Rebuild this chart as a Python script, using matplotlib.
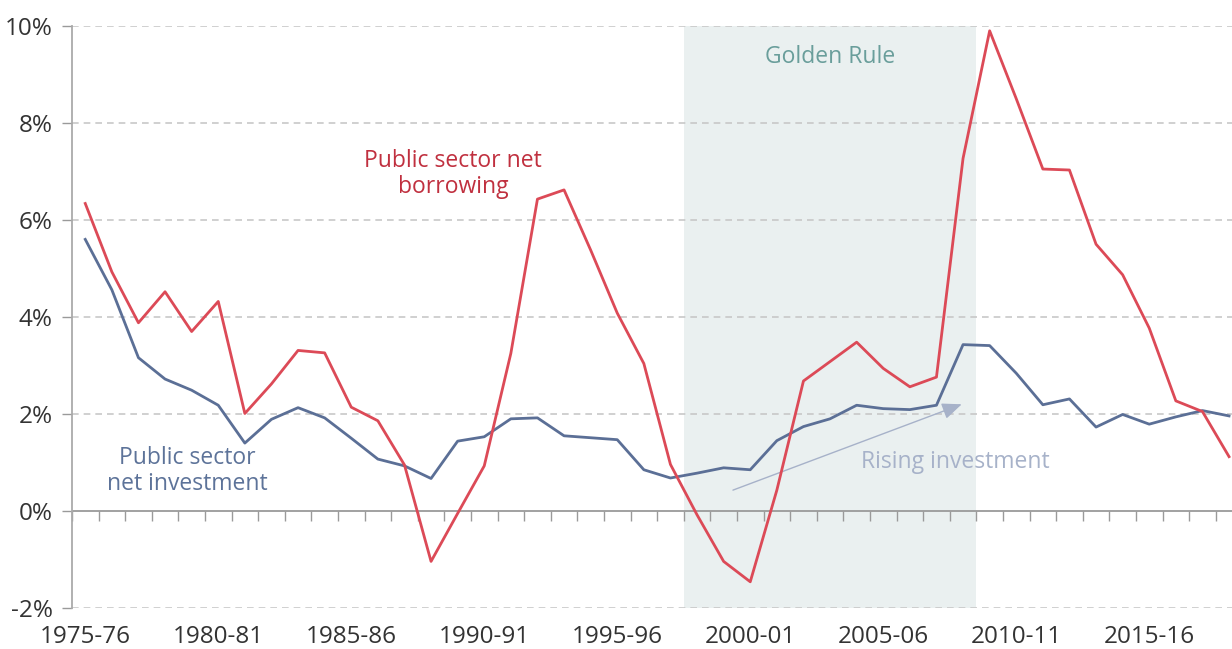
import numpy as np
import matplotlib.pyplot as plt

plt.rcParams['font.family'] = ['Open Sans', 'DejaVu Sans']

# DATA (% of GDP), 1975-76 to 2018-19
years = [f"{y}-{str(y + 1)[-2:]}" for y in range(1975, 2019)]
borrowing = [6.34, 4.93, 3.88, 4.52, 3.70, 4.32, 2.01, 2.62, 3.31, 3.26,
             2.14, 1.86, 0.95, -1.04, -0.05, 0.93, 3.25, 6.43, 6.62, 5.38,
             4.08, 3.04, 0.96, -0.08, -1.04, -1.46, 0.43, 2.68, 3.08, 3.48,
             2.94, 2.56, 2.76, 7.27, 9.90, 8.50, 7.05, 7.03, 5.50, 4.87,
             3.77, 2.27, 2.05, 1.12]
investment = [5.60, 4.56, 3.16, 2.72, 2.49, 2.18, 1.40, 1.89, 2.13, 1.92,
              1.50, 1.07, 0.93, 0.67, 1.44, 1.53, 1.90, 1.92, 1.55, 1.51,
              1.47, 0.85, 0.68, 0.78, 0.89, 0.85, 1.45, 1.74, 1.90, 2.18,
              2.11, 2.09, 2.18, 3.43, 3.41, 2.84, 2.19, 2.31, 1.73, 1.99,
              1.79, 1.94, 2.07, 1.96]
golden_rule = ["1998-99", "2008-09"]
y_ticks = [-2, 0, 2, 4, 6, 8, 10]

x = np.arange(len(years))

fig = plt.figure(figsize=(12.32, 6.49), dpi=100)
ax = fig.add_axes([0.0584, 0.0632, 0.950, 0.8968])

# golden rule period shading
gr0 = years.index(golden_rule[0]) - 0.5
gr1 = years.index(golden_rule[1]) + 0.5
ax.axvspan(gr0, gr1, color="#EAF0F0", zorder=0, lw=0)

# gridlines
for t in y_ticks:
    if t == 0:
        ax.axhline(t, color="#9A9A9A", lw=1.3, zorder=1)
    else:
        ax.axhline(t, color="#C8C8C8", lw=1.2, ls=(0, (4, 3)), zorder=1)

ax.plot(x, investment, color="#5B6F96", lw=2, zorder=3)
ax.plot(x, borrowing, color="#DC4A57", lw=2, zorder=4)

ax.set_xlim(-0.5, len(years) - 0.5)
ax.set_ylim(-2, 10)

# labels
ax.text(13.82, 6.95, "Public sector net\nborrowing", color="#C0303F",
        fontsize=16.5, ha="center", va="center", linespacing=1.1)
ax.text(3.84, 0.82, "Public sector\nnet investment", color="#5D7399",
        fontsize=16.5, ha="center", va="center", linespacing=1.1)
ax.text((gr0 + gr1) / 2, 9.37, "Golden Rule", color="#6A9E9B",
        fontsize=16.5, ha="center", va="center")
ax.text(29.16, 1.01, "Rising investment", color="#A7B2C9",
        fontsize=16.5, ha="left", va="center")
ax.annotate("", xy=(32.95, 2.2), xytext=(24.35, 0.43),
            arrowprops=dict(arrowstyle="-|>,head_length=1.2,head_width=0.5",
                            color="#A7B2C9", lw=1, shrinkA=0, shrinkB=0),
            zorder=2)

# y axis
ax.set_yticks(y_ticks)
ax.set_yticklabels([f"{t}%" for t in y_ticks])
ax.tick_params(axis="y", colors="#9A9A9A", length=7, width=1,
               labelcolor="#333333", labelsize=17.5, pad=7)

# x axis labels at bottom, tick marks on zero line
ax.set_xticks(x[::5])
ax.set_xticklabels(years[::5])
ax.tick_params(axis="x", length=0, labelsize=17.5, labelcolor="#333333", pad=12)

sec = ax.secondary_xaxis(2 / 12)
sec.set_xticks(np.arange(len(years) + 1) - 0.5)
sec.set_xticklabels([])
sec.tick_params(axis="x", direction="out", length=7, colors="#9A9A9A", width=1)
sec.spines["bottom"].set_visible(False)

for s in ["top", "right", "bottom"]:
    ax.spines[s].set_visible(False)
ax.spines["left"].set_color("#AAAAAA")
ax.spines["left"].set_linewidth(1.3)

plt.savefig("out.png", dpi=100)
